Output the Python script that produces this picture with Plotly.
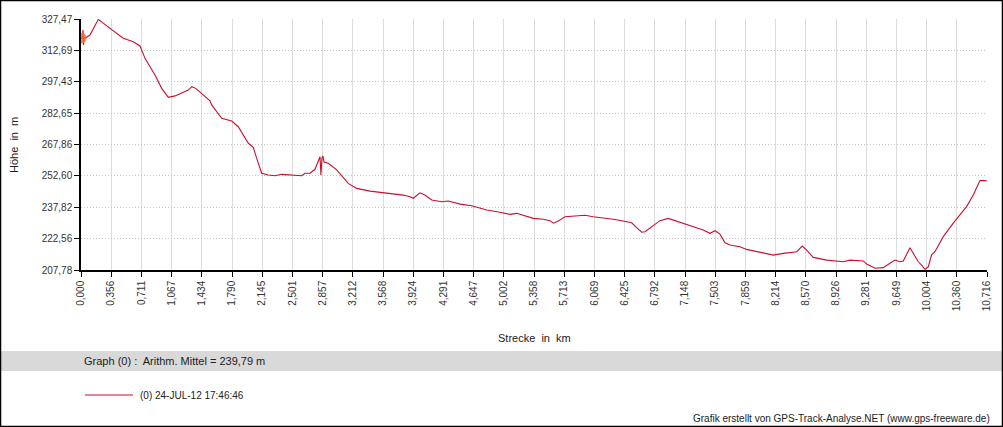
import plotly.graph_objects as go

# Höhenprofil (Strecke in km, Höhe in m)
strecke_km = [
    0.000, 0.018, 0.024, 0.030, 0.035, 0.047, 0.106, 0.205, 0.284, 0.343,
    0.500, 0.619, 0.698, 0.757, 0.875, 0.954, 1.033, 1.112, 1.269, 1.309,
    1.357, 1.467, 1.526, 1.546, 1.664, 1.782, 1.860, 1.979, 2.038, 2.078,
    2.137, 2.215, 2.294, 2.374, 2.610, 2.649, 2.708, 2.768, 2.807, 2.827,
    2.838, 2.850, 2.862, 2.874, 2.925, 3.024, 3.161, 3.261, 3.418, 3.536,
    3.654, 3.812, 3.891, 3.930, 4.009, 4.068, 4.148, 4.266, 4.344, 4.483,
    4.621, 4.680, 4.798, 4.956, 5.074, 5.153, 5.231, 5.349, 5.468, 5.547,
    5.586, 5.645, 5.724, 5.823, 5.961, 6.059, 6.177, 6.296, 6.395, 6.513,
    6.572, 6.632, 6.671, 6.769, 6.848, 6.946, 7.025, 7.124, 7.242, 7.360,
    7.439, 7.498, 7.557, 7.617, 7.676, 7.794, 7.873, 8.031, 8.188, 8.306,
    8.465, 8.531, 8.583, 8.661, 8.820, 9.016, 9.095, 9.253, 9.293, 9.391,
    9.489, 9.568, 9.627, 9.686, 9.726, 9.805, 9.864, 9.903, 9.943, 9.982,
    10.021, 10.061, 10.100, 10.199, 10.317, 10.475, 10.553, 10.633, 10.692, 10.716,
]
hoehe_m = [
    318.3, 318.4, 322.2, 315.1, 318.9, 318.3, 319.8, 327.3, 324.6, 323.0,
    318.3, 316.6, 314.6, 308.7, 300.8, 294.4, 290.1, 290.8, 293.6, 295.2,
    294.4, 290.4, 288.5, 286.5, 280.1, 278.8, 276.1, 268.2, 266.3, 261.0,
    253.9, 253.1, 252.7, 253.4, 252.7, 253.9, 253.9, 255.8, 259.4, 261.8,
    253.1, 261.2, 262.1, 259.3, 258.7, 255.5, 249.1, 246.7, 245.4, 244.8,
    244.4, 243.5, 242.7, 242.0, 244.6, 243.5, 241.2, 240.3, 240.7, 239.2,
    238.4, 237.7, 236.4, 235.3, 234.3, 234.8, 233.7, 232.4, 232.0, 231.3,
    230.1, 231.1, 233.2, 233.5, 233.9, 233.2, 232.7, 232.0, 231.3, 230.3,
    228.0, 225.8, 226.0, 228.8, 231.3, 232.4, 231.3, 230.1, 228.4, 226.9,
    225.3, 226.5, 224.9, 220.8, 219.7, 218.9, 217.6, 216.3, 214.9, 215.7,
    216.5, 219.2, 217.3, 213.8, 212.5, 211.7, 212.5, 212.1, 210.6, 208.6,
    208.9, 211.0, 212.5, 211.7, 212.1, 218.4, 214.1, 211.7, 210.1, 208.1,
    209.3, 215.0, 216.5, 223.7, 230.1, 238.0, 243.5, 250.4, 250.4, 250.2,
]

x_ticktext = ["0,000", "0,356", "0,711", "1,067", "1,434", "1,790", "2,145", "2,501",
              "2,857", "3,212", "3,568", "3,924", "4,291", "4,647", "5,002", "5,358",
              "5,713", "6,069", "6,425", "6,792", "7,148", "7,503", "7,859", "8,214",
              "8,570", "8,926", "9,281", "9,649", "10,004", "10,360", "10,716"]
y_ticktext = ["207,78", "222,56", "237,82", "252,60", "267,86", "282,65",
              "297,43", "312,69", "327,47"]

x_max = 10.716
y_min, y_max = 207.78, 327.47
x_tickvals = [x_max * i / (len(x_ticktext) - 1) for i in range(len(x_ticktext))]
y_tickvals = [y_min + (y_max - y_min) * i / (len(y_ticktext) - 1) for i in range(len(y_ticktext))]

LINE = "#c8102e"
FONT = "Liberation Sans, Arial, sans-serif"

fig = go.Figure()
fig.add_trace(go.Scatter(x=strecke_km, y=hoehe_m, mode="lines",
                         line=dict(color=LINE, width=1.1),
                         name="(0) 24-JUL-12 17:46:46", showlegend=False))
# Startpunkt-Markierung
fig.add_trace(go.Scatter(x=strecke_km[:1], y=hoehe_m[:1], mode="markers",
                         marker=dict(color="#ff6a3a", size=11, opacity=0.8),
                         showlegend=False, hoverinfo="skip"))

# Seitenraender in Papierkoordinaten
W, H = 1003, 427
L, R, T, B = 81, 987, 19, 270
def px(x):
    return (x - L) / (R - L)
def py(y):
    return (B - y) / (B - T)

fig.update_layout(
    width=W, height=H,
    margin=dict(l=L, r=W - R, t=T, b=H - B),
    paper_bgcolor="white", plot_bgcolor="white",
    font=dict(family=FONT, size=10, color="#333333"),
    showlegend=False,
    xaxis=dict(range=[0, x_max], tickvals=x_tickvals, ticktext=x_ticktext,
               tickangle=-90, ticks="outside", ticklen=5, tickcolor="black",
               showline=True, linecolor="black", linewidth=1.5,
               showgrid=True, gridcolor="#dcdcdc", gridwidth=1,
               zeroline=False, tickfont=dict(size=10, color="#333333")),
    yaxis=dict(range=[y_min, y_max], tickvals=y_tickvals, ticktext=y_ticktext,
               ticks="outside", ticklen=5, tickcolor="black",
               showline=True, linecolor="black", linewidth=1.5,
               showgrid=True, gridcolor="#c4c4c4", griddash="1px,2px", gridwidth=1,
               zeroline=False, tickfont=dict(size=10, color="#333333")),
)

fig.add_shape(type="rect", xref="paper", yref="paper",
              x0=px(0), x1=px(W), y0=py(351), y1=py(371),
              fillcolor="#d9d9d9", line=dict(width=0), layer="below")
fig.add_shape(type="rect", xref="paper", yref="paper",
              x0=px(0.5), x1=px(W - 0.5), y0=py(H - 0.5), y1=py(0.5),
              line=dict(color="black", width=1.5), layer="above")
fig.add_shape(type="line", xref="paper", yref="paper",
              x0=px(85), x1=px(133), y0=py(395), y1=py(395),
              line=dict(color=LINE, width=1.2))

notes = [
    dict(text="Strecke\u00a0 in\u00a0 km", x=px(534), y=py(338), xanchor="center", size=11),
    dict(text="Graph (0) :\u00a0 Arithm. Mittel = 239,79 m", x=px(82), y=py(361),
         xanchor="left", size=11),
    dict(text="(0) 24-JUL-12 17:46:46", x=px(138), y=py(395), xanchor="left", size=10),
    dict(text="Grafik erstellt von GPS-Track-Analyse.NET (www.gps-freeware.de)",
         x=px(992), y=py(418), xanchor="right", size=10),
]
for n in notes:
    fig.add_annotation(text=n["text"], x=n["x"], y=n["y"], xref="paper", yref="paper",
                       xanchor=n["xanchor"], yanchor="middle", showarrow=False,
                       font=dict(family=FONT, size=n["size"], color="#222222"))
fig.add_annotation(text="Höhe\u00a0 in\u00a0 m", x=px(14), y=py(145), xref="paper", yref="paper",
                   xanchor="center", yanchor="middle", showarrow=False, textangle=-90,
                   font=dict(family=FONT, size=11, color="#222222"))

fig.write_html("out.html", config={"displayModeBar": False},
               post_script="document.body.style.margin='0';")
